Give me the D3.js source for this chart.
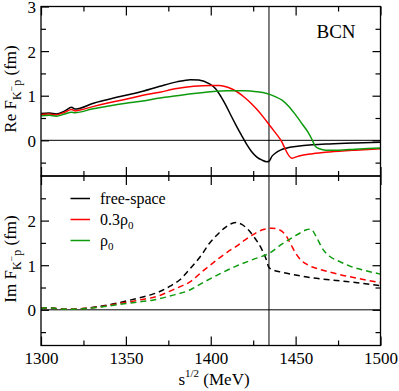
<!DOCTYPE html>
<html>
<head>
    <meta charset="utf-8">
    <script src="https://d3js.org/d3.v7.min.js"></script>
    <style>
      body { margin: 0; background: #fff; }
      svg text { fill: #000; }
    </style>
</head>
<body>
    <script>
      // data: [sqrt(s) in MeV, value in fm]
      const reFree = [[1300,0.60],[1305,0.61],[1309,0.59],[1314,0.66],[1318,0.74],[1320,0.70],[1323,0.72],[1330,0.82],
        [1340,0.92],[1350,1.01],[1360,1.10],[1370,1.21],[1380,1.31],[1388,1.36],[1393,1.35],[1399,1.27],[1403,1.15],
        [1406,0.98],[1409,0.78],[1412,0.55],[1415,0.33],[1418,0.12],[1421,-0.08],[1424,-0.25],[1427,-0.37],[1430,-0.44],
        [1433,-0.48],[1434.3,-0.47],[1436,-0.36],[1438,-0.29],[1441,-0.22],[1445,-0.17],[1450,-0.14],[1460,-0.10],
        [1470,-0.08],[1485,-0.06],[1500,-0.045]];
      const reHalf = [[1300,0.58],[1305,0.59],[1309,0.57],[1314,0.63],[1318,0.69],[1320,0.66],[1323,0.68],[1330,0.75],
        [1340,0.84],[1350,0.92],[1360,1.01],[1370,1.08],[1380,1.16],[1390,1.21],[1400,1.23],[1405,1.23],[1410,1.19],
        [1415,1.10],[1420,0.96],[1424,0.82],[1427,0.70],[1431,0.52],[1435,0.32],[1441,0.02],[1447.7,-0.40],[1452,-0.35],
        [1460,-0.30],[1470,-0.26],[1485,-0.22],[1500,-0.19]];
      const reFull = [[1300,0.55],[1305,0.56],[1309,0.54],[1314,0.59],[1318,0.63],[1320,0.62],[1330,0.70],[1340,0.77],
        [1350,0.83],[1360,0.88],[1370,0.95],[1380,1.00],[1390,1.05],[1400,1.09],[1410,1.11],[1420,1.11],[1427,1.09],
        [1433,1.05],[1438,0.98],[1442,0.90],[1446,0.76],[1450,0.57],[1454,0.36],[1457,0.20],[1459.5,0.03],[1461.5,-0.13],
        [1464,-0.19],[1468,-0.22],[1475,-0.22],[1485,-0.20],[1500,-0.17]];

      const imFree = [[1300,0.03],[1305,0.05],[1310,0.02],[1318,0.01],[1325,0.03],[1335,0.08],[1346,0.16],[1358,0.27],
        [1365,0.34],[1370,0.41],[1376,0.53],[1382,0.68],[1388,0.93],[1394,1.20],[1399,1.48],[1404,1.69],[1408,1.83],
        [1412,1.93],[1415,1.96],[1418,1.92],[1422,1.80],[1425,1.66],[1430,1.36],[1432.5,1.15],[1434.3,0.95],[1437,0.89],
        [1441,0.85],[1450,0.78],[1459,0.72],[1476,0.65],[1490,0.59],[1500,0.54]];
      const imHalf = [[1300,0.03],[1305,0.05],[1310,0.02],[1318,0.01],[1325,0.03],[1335,0.07],[1346,0.14],[1358,0.22],
        [1370,0.32],[1376,0.42],[1382,0.52],[1388,0.63],[1395,0.86],[1403,1.10],[1410,1.30],[1415,1.42],[1420,1.56],
        [1426,1.71],[1431,1.80],[1436,1.83],[1440,1.80],[1444,1.68],[1447,1.48],[1450,1.27],[1453,1.12],[1457,1.01],
        [1465,0.90],[1476,0.79],[1490,0.68],[1500,0.61]];
      const imFull = [[1300,0.03],[1305,0.05],[1310,0.02],[1318,0.01],[1330,0.04],[1346,0.12],[1358,0.18],[1365,0.21],
        [1370,0.25],[1376,0.31],[1388,0.45],[1395,0.60],[1405,0.80],[1415,0.98],[1425,1.13],[1435,1.28],[1441,1.45],
        [1448,1.62],[1453,1.73],[1456,1.79],[1459,1.81],[1462,1.65],[1466,1.36],[1470,1.20],[1476,1.08],[1482,0.98],
        [1490,0.89],[1500,0.80]];

      const seriesNames = ["free-space", "0.3\u03c10", "\u03c10"];
      const seriesColors = ["#000000", "#ff0000", "#0d9a0d"];
      const threshold = 1434.3;
      const xMajor = [1300, 1350, 1400, 1450, 1500];
      const xMinor = [1325, 1375, 1425, 1475];
      const yMajorTop = [0, 1, 2, 3];
      const yMajorBottom = [0, 1, 2];
      const yMinor = [-0.5, 0.5, 1.5, 2.5];

      const serif = 'Liberation Serif';

      const width = 399, height = 391;
      const svg = d3.select('body').append('svg')
        .attr('width', width)
        .attr('height', height)
        .attr('font-family', serif);

      const x = d3.scaleLinear().domain([1300, 1500]).range([41, 380.5]);
      const yTop = d3.scaleLinear().domain([-0.8, 3]).range([176, 6.5]);
      const yBot = d3.scaleLinear().domain([-0.8, 3]).range([345.5, 176]);

      function panel(y, curves, dashed, labels) {
        const g = svg.append('g');
        const [y0, y1] = y.range();

        // zero line and threshold line
        g.append('line').attr('x1', x(1300)).attr('x2', x(1500))
          .attr('y1', y(0)).attr('y2', y(0)).attr('stroke', '#000').attr('stroke-width', 1);
        g.append('line').attr('x1', x(threshold)).attr('x2', x(threshold))
          .attr('y1', y0).attr('y2', y1).attr('stroke', '#000').attr('stroke-width', 1);

        const line = d3.line().x(d => x(d[0])).y(d => y(d[1])).curve(d3.curveMonotoneX);
        curves.forEach((c, i) => {
          g.append('path').attr('d', line(c))
            .attr('fill', 'none')
            .attr('stroke', seriesColors[i])
            .attr('stroke-width', 1.5)
            .attr('stroke-dasharray', dashed ? '6,4' : null);
        });

        // ticks on all four sides, pointing in
        const addAxis = (axis, tr) => {
          const a = g.append('g').attr('transform', tr).call(axis);
          a.attr('font-family', serif).attr('font-size', 17);
          a.select('.domain').remove();
          a.selectAll('line').attr('stroke-width', 1.2);
          return a;
        };
        addAxis(d3.axisBottom(x).tickValues(xMajor).tickSize(-9).tickFormat(labels.x ? d3.format('d') : ''),
          `translate(0,${y0})`).selectAll('text').attr('y', 6).attr('dy', '0.71em');
        addAxis(d3.axisBottom(x).tickValues(xMinor).tickSize(-5).tickFormat(''), `translate(0,${y0})`);
        addAxis(d3.axisTop(x).tickValues(xMajor).tickSize(-9).tickFormat(''), `translate(0,${y1})`);
        addAxis(d3.axisTop(x).tickValues(xMinor).tickSize(-5).tickFormat(''), `translate(0,${y1})`);
        addAxis(d3.axisLeft(y).tickValues(labels.y).tickSize(-8).tickFormat(d3.format('d')),
          `translate(${x(1300)},0)`).selectAll('text').attr('x', -5).attr('dy', '0.36em');
        addAxis(d3.axisLeft(y).tickValues(yMinor).tickSize(-5).tickFormat(''), `translate(${x(1300)},0)`);
        addAxis(d3.axisRight(y).tickValues([0, 1, 2]).tickSize(-8).tickFormat(''), `translate(${x(1500)},0)`);
        addAxis(d3.axisRight(y).tickValues(yMinor).tickSize(-5).tickFormat(''), `translate(${x(1500)},0)`);

        g.append('rect').attr('x', x(1300)).attr('y', y1)
          .attr('width', x(1500) - x(1300)).attr('height', y0 - y1)
          .attr('fill', 'none').attr('stroke', '#000').attr('stroke-width', 1.3);
        return g;
      }

      panel(yTop, [reFree, reHalf, reFull], false, { x: false, y: yMajorTop });
      panel(yBot, [imFree, imHalf, imFull], true, { x: true, y: yMajorBottom });

      // BCN label
      svg.append('text').attr('x', 336).attr('y', 38).attr('text-anchor', 'middle')
        .attr('font-size', 19).text('BCN');

      // y axis titles
      function yTitle(prefix, cy) {
        const t = svg.append('text')
          .attr('transform', `translate(16,${cy}) rotate(-90)`)
          .attr('text-anchor', 'middle')
          .attr('font-size', 17);
        t.append('tspan').text(prefix + ' F');
        t.append('tspan').attr('dy', 5).attr('font-size', 12).text('K');
        t.append('tspan').attr('dy', -6).attr('font-size', 10).text('\u2212');
        t.append('tspan').attr('dy', 6).attr('font-size', 12).text('p');
        t.append('tspan').attr('dy', -5).text(' (fm)');
      }
      yTitle('Re', 89);
      yTitle('Im', 259);

      // x axis title
      const xt = svg.append('text').attr('x', 214).attr('y', 385).attr('text-anchor', 'middle')
        .attr('font-size', 17);
      xt.append('tspan').text('s');
      xt.append('tspan').attr('dy', -8).attr('font-size', 11).text('1/2');
      xt.append('tspan').attr('dy', 8).text(' (MeV)');

      // legend
      const legend = svg.append('g');
      seriesNames.forEach((name, i) => {
        const ly = 198.5 + i * 21;
        legend.append('line').attr('x1', 70.5).attr('x2', 90).attr('y1', ly).attr('y2', ly)
          .attr('stroke', seriesColors[i]).attr('stroke-width', 1.5);
        const t = legend.append('text').attr('x', 100).attr('y', ly + 5).attr('font-size', 16);
        if (name.endsWith('0')) {
          t.append('tspan').text(name.slice(0, -1));
          t.append('tspan').attr('dy', 4).attr('font-size', 11).text('0');
        } else {
          t.text(name);
        }
      });
    </script>
</body>
</html>
